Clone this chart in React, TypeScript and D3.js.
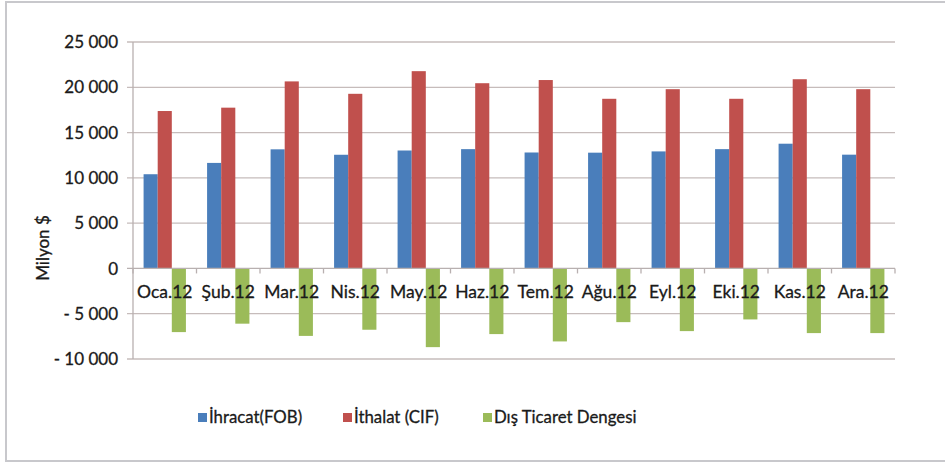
import React, { useEffect, useRef } from 'react';
import * as d3 from 'd3';

// aylar
const months = ['Oca.12', 'Şub.12', 'Mar.12', 'Nis.12', 'May.12', 'Haz.12', 'Tem.12', 'Ağu.12', 'Eyl.12', 'Eki.12', 'Kas.12', 'Ara.12'];

// seriler (milyon $)
const ihracat = [10400, 11650, 13150, 12550, 13020, 13170, 12800, 12780, 12920, 13170, 13770, 12560];
const ithalat = [17380, 17750, 20650, 19280, 21780, 20450, 20800, 18730, 19790, 18730, 20890, 19790];
const denge = [-7030, -6100, -7450, -6770, -8690, -7250, -8060, -5930, -6920, -5630, -7140, -7140];

const seriesNames = ['İhracat(FOB)', 'İthalat (CIF)', 'Dış Ticaret Dengesi'];
const seriesColors = ['#4a7ebb', '#c0504d', '#9bbb59'];

const yTicks = [25000, 20000, 15000, 10000, 5000, 0, -5000, -10000];

const fmt = (v: number) => {
    if (v === 0) return '0';
    const abs = Math.abs(v);
    const s = abs >= 1000 ? `${Math.floor(abs / 1000)} ${String(abs % 1000).padStart(3, '0')}` : String(abs);
    return v < 0 ? `- ${s}` : s;
};

const App = () => {
    const svgRef = useRef(null);

    useEffect(() => {
        const svg = d3.select(svgRef.current);
        svg.selectAll('*').remove();

        const font = 'Lato, "Open Sans", sans-serif';
        const textColor = '#1a1a1a';
        const left = 133, right = 895, top = 42, bottom = 359;

        // dış çerçeve
        svg.append('rect')
            .attr('x', 6).attr('y', 2)
            .attr('width', 950).attr('height', 459)
            .attr('fill', '#fff')
            .attr('stroke', '#c8c8cc')
            .attr('stroke-width', 2);

        const x = d3.scaleBand().domain(months).range([left, right]);
        const cw = x.bandwidth();
        const gap = cw * 1.5 / 4.5;
        const xs = d3.scaleBand().domain(['0', '1', '2']).range([gap / 2, cw - gap / 2]);
        const y = d3.scaleLinear().domain([-10000, 25000]).range([bottom, top]);

        // metin biraz kalın görünsün diye ince kontur
        const styleText = (sel: any, size: number) => sel
            .attr('font-family', font)
            .attr('font-size', size)
            .attr('fill', textColor)
            .attr('stroke', textColor)
            .attr('stroke-width', 0.3);

        // ızgara
        svg.append('g')
            .selectAll('line')
            .data(yTicks.filter(t => t !== 0))
            .join('line')
            .attr('x1', left - 6).attr('x2', right)
            .attr('y1', d => y(d)).attr('y2', d => y(d))
            .attr('stroke', '#c6bcbb')
            .attr('stroke-width', 1.3);

        // y ekseni
        svg.append('line')
            .attr('x1', left).attr('x2', left)
            .attr('y1', top).attr('y2', bottom)
            .attr('stroke', '#b8b0b0').attr('stroke-width', 1.3);

        svg.append('g')
            .selectAll('text')
            .data(yTicks)
            .join('text')
            .attr('x', 118)
            .attr('y', d => y(d))
            .attr('dy', '0.36em')
            .attr('text-anchor', 'end')
            .call(styleText, 17)
            .text(d => fmt(d));

        svg.append('text')
            .attr('transform', 'translate(49,248) rotate(-90)')
            .attr('text-anchor', 'middle')
            .call(styleText, 17)
            .text('Milyon $');

        // çubuklar
        const all = [ihracat, ithalat, denge];
        all.forEach((vals, si) => {
            svg.append('g')
                .selectAll('rect')
                .data(vals)
                .join('rect')
                .attr('x', (_, i) => (x(months[i]) as number) + (xs(String(si)) as number))
                .attr('width', xs.bandwidth())
                .attr('y', d => y(Math.max(0, d)))
                .attr('height', d => Math.abs(y(d) - y(0)))
                .attr('fill', seriesColors[si]);
        });

        // x ekseni (sıfır çizgisi)
        svg.append('line')
            .attr('x1', left - 6).attr('x2', right)
            .attr('y1', y(0)).attr('y2', y(0))
            .attr('stroke', '#b8b0b0').attr('stroke-width', 1.3);

        svg.append('g')
            .selectAll('line')
            .data(d3.range(months.length + 1))
            .join('line')
            .attr('x1', i => left + i * cw).attr('x2', i => left + i * cw)
            .attr('y1', y(0)).attr('y2', y(0) + 5)
            .attr('stroke', '#b8b0b0').attr('stroke-width', 1.3);

        svg.append('g')
            .selectAll('text')
            .data(months)
            .join('text')
            .attr('x', d => (x(d) as number) + cw / 2)
            .attr('y', 298)
            .attr('text-anchor', 'middle')
            .call(styleText, 17.5)
            .text(d => d);

        // lejant
        const legendX = [198, 343, 483];
        const lg = svg.append('g');
        seriesNames.forEach((name, i) => {
            lg.append('rect')
                .attr('x', legendX[i]).attr('y', 413)
                .attr('width', 9).attr('height', 9)
                .attr('fill', seriesColors[i]);
            lg.append('text')
                .attr('x', legendX[i] + 11).attr('y', 423)
                .call(styleText, 16.8)
                .text(name);
        });
    }, []);

    return (
        <div>
            <svg ref={svgRef} width={945} height={464} style={{ position: 'absolute', left: 0, top: 0 }} />
        </div>
    );
};

export default App;
